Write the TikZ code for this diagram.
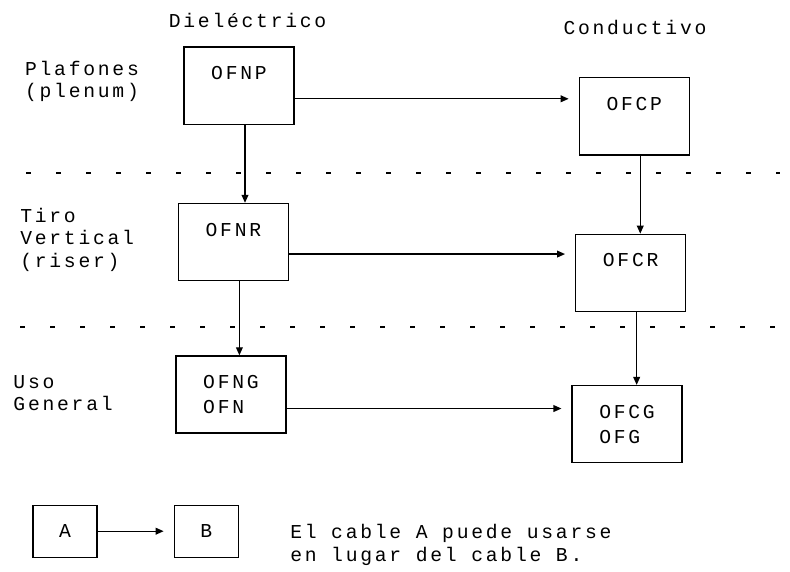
\documentclass[tikz,border=0pt]{standalone}
\usepackage{fontspec}
\newfontfamily\typew[LetterSpace=14]{Liberation Mono}
\usetikzlibrary{arrows.meta,positioning}

\begin{document}
\begin{tikzpicture}[
cable/.style={draw, line width=0.9pt, minimum width=2.75cm, minimum height=1.93cm, align=left, font=\typew\fontsize{14}{17.8}\selectfont},
small/.style={draw, line width=0.9pt, minimum width=1.6cm, minimum height=1.3cm, font=\typew\fontsize{14}{16}\selectfont},
tag/.style={align=left, inner sep=0pt, font=\typew\fontsize{14}{16}\selectfont},
arrow/.style={-{Triangle[length=0.2cm,width=0.17cm]}, line width=0.9pt},
hop/.style={arrow, shorten >=0.25cm},
sep/.style={line width=1pt, dash pattern=on 0.13cm off 0.62cm}
]
\useasboundingbox (0,0) rectangle (19.75,-14.3);

% Column headers
\node[tag, anchor=base] (diel) at (6.19,-0.7) {Dieléctrico};
\node[tag, anchor=base] (cond) at (15.875,-0.875) {Conductivo};

% Row labels (left side)
\node[tag, anchor=west] (plenum) at (0.62,-2.04) {Plafones\\(plenum)};
\node[tag, anchor=west] (riser) at (0.5,-5.99) {Tiro\\Vertical\\(riser)};
\node[tag, anchor=west] (general) at (0.33,-9.83) {Uso\\General};

% Dielectric cables
\node[cable] (ofnp) at (5.975,-2.14) {OFNP\\\mbox{}};
\node[cable, below=1.95cm of ofnp, xshift=-0.14cm] (ofnr) {OFNR\\\mbox{}};
\node[cable, below=1.85cm of ofnr, xshift=-0.06cm] (ofng) {OFNG\\OFN};

% Conductive cables
\node[cable, right=7.1cm of ofnp, yshift=-0.77cm] (ofcp) {OFCP\\\mbox{}};
\node[cable, below=1.95cm of ofcp, xshift=-0.09cm] (ofcr) {OFCR\\\mbox{}};
\node[cable, below=1.82cm of ofcr, xshift=-0.09cm] (ofcg) {OFCG\\OFG};

% Separators between rows
\draw[sep] (0.65,-4.33) -- (19.5,-4.33);
\draw[sep] (0.5,-8.18) -- (19.4,-8.18);

% Down the columns
\draw[arrow] ([xshift=0.15cm]ofnp.south) -- ([xshift=0.15cm]ofnp.south |- ofnr.north);
\draw[arrow] ([xshift=0.15cm]ofnr.south) -- ([xshift=0.15cm]ofnr.south |- ofng.north);
\draw[arrow] ([xshift=0.15cm]ofcp.south) -- ([xshift=0.15cm]ofcp.south |- ofcr.north);
\draw[arrow] ([xshift=0.15cm]ofcr.south) -- ([xshift=0.15cm]ofcr.south |- ofcg.north);

% Across the rows
\coordinate (r1) at ([yshift=-0.33cm]ofnp.east);
\coordinate (r2) at ([yshift=-0.3cm]ofnr.east);
\coordinate (r3) at ([yshift=-0.35cm]ofng.east);
\draw[hop] (r1) -- (r1 -| ofcp.west);
\draw[hop] (r2) -- (r2 -| ofcr.west);
\draw[hop] (r3) -- (r3 -| ofcg.west);

% Legend
\node[small] (a) at (1.625,-13.28) {A};
\node[small, right=1.9cm of a] (b) {B};
\draw[hop] (a) -- (b);
\node[tag, anchor=west] (note) at (7.25,-13.62) {El cable A puede usarse\\en lugar del cable B.};

\end{tikzpicture}
\end{document}
